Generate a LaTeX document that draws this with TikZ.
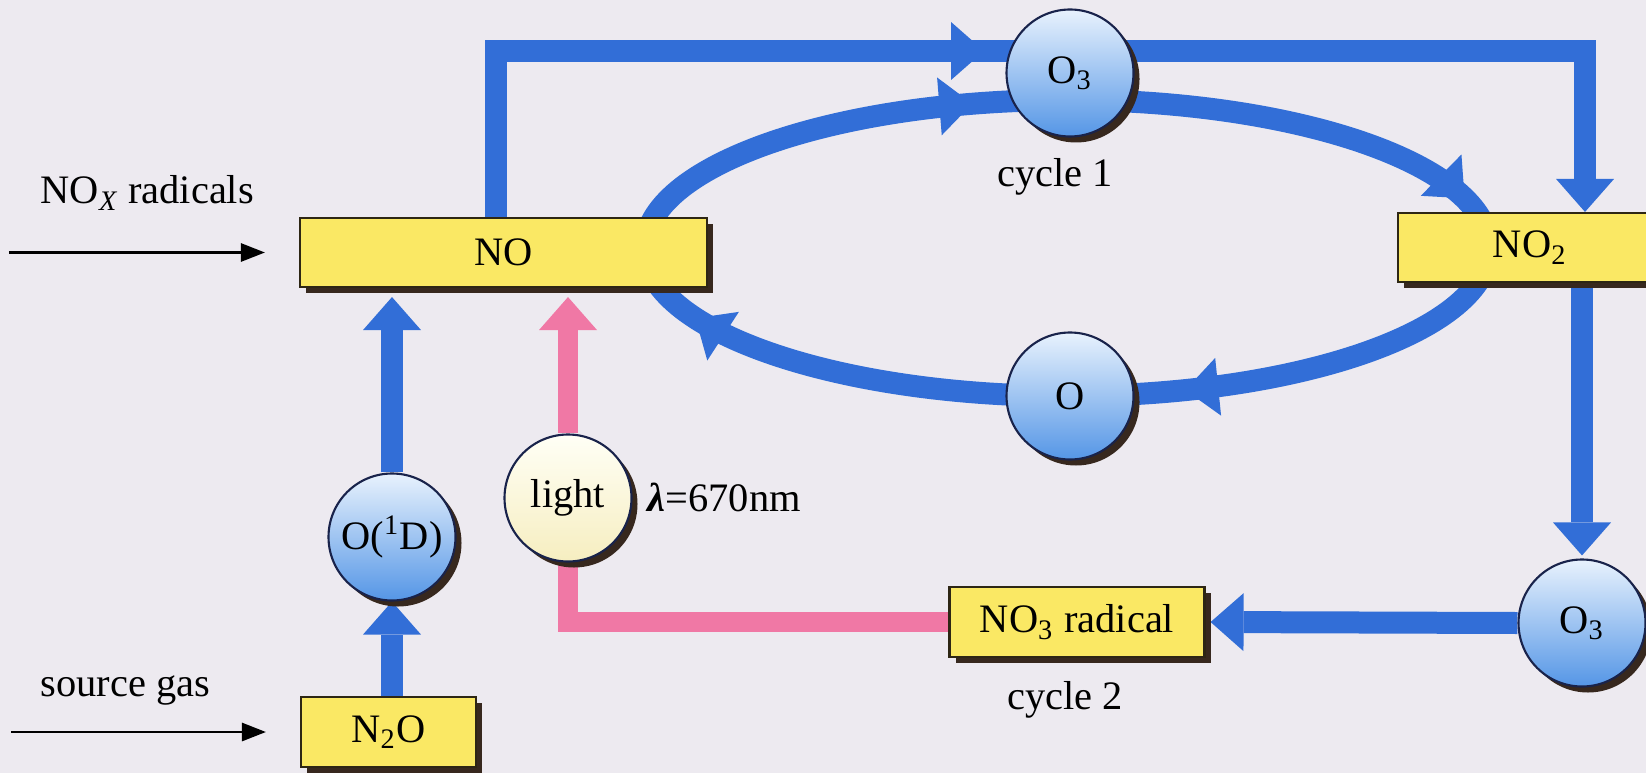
\documentclass[tikz,border=0pt]{standalone}
\usepackage{fontspec}
\setmainfont{Liberation Serif}
\usepackage{tikz}
\usetikzlibrary{positioning,calc,arrows.meta,shadows,backgrounds,decorations.markings}

\definecolor{paper}{RGB}{237,234,240}
\definecolor{flowblue}{RGB}{50,110,215}
\definecolor{pinkc}{RGB}{240,120,165}
\definecolor{boxyellow}{RGB}{250,232,100}
\definecolor{edge}{RGB}{45,38,20}
\definecolor{shadowc}{RGB}{55,40,30}
\definecolor{ballhi}{RGB}{232,242,253}
\definecolor{balllo}{RGB}{85,150,230}
\definecolor{ballrim}{RGB}{25,35,75}
\definecolor{lamphi}{RGB}{255,255,246}
\definecolor{lamplo}{RGB}{246,238,192}

\tikzset{
  txt/.style     = {font=\fontsize{11.5}{13}\selectfont},
  lbl/.style     = {txt, inner sep=0pt},
  box/.style     = {txt, draw=edge, fill=boxyellow, line width=0.6pt, inner sep=0pt, minimum height=0.69cm,
                    drop shadow={shadow xshift=0.06cm, shadow yshift=-0.06cm, opacity=1, fill=shadowc}},
  ball/.style    = {txt, circle, draw=ballrim, line width=0.6pt, top color=ballhi, bottom color=balllo,
                    minimum size=1.27cm, inner sep=0pt,
                    drop shadow={shadow xshift=0.06cm, shadow yshift=-0.06cm, opacity=1, fill=shadowc}},
  lamp/.style    = {ball, top color=lamphi, bottom color=lamplo},
  flow/.style    = {draw=flowblue, line width=0.22cm},
  glow/.style    = {draw=pinkc, line width=0.2cm},
  bigtip/.style  = {-{Triangle[length=3.3mm, width=5.8mm, line width=0pt]}},
  feed/.style    = {draw=black, line width=0.8pt, -{Triangle[length=2.4mm, width=1.8mm]}},
  midtip/.style  = {postaction={decorate, decoration={markings,
                    mark=at position #1 with {\arrow{Triangle[length=3.3mm, width=5.8mm, line width=0pt, color=flowblue]}}}}},
}

\begin{document}
\begin{tikzpicture}[x=1cm,y=1cm]
  \useasboundingbox (0,0) rectangle (16.46,7.73);

  % ----- boxes -----
  \node[box, minimum width=4.07cm] (NO) at (5.035,5.205) {NO};
  \node[box, minimum width=1.75cm, minimum height=0.70cm] (N2O) at (3.885,0.41) {N\textsubscript{2}O};
  \node[box, minimum width=2.64cm] (NO2) at (15.30,5.255) {NO\textsubscript{2}};
  \node[box, minimum width=2.55cm, minimum height=0.70cm] (NO3) at (10.77,1.51) {NO\textsubscript{3} radical};

  % ----- species -----
  \node[ball] (O1D) at (3.92,2.36) {O(\textsuperscript{1}D)};
  \node[lamp] (light) at (5.68,2.75) {light};
  \node[ball] (O3a) at (10.70,7.00) {O\textsubscript{3}};
  \node[ball] (O) at (10.70,3.77) {O};
  \node[ball] (O3b) at (15.82,1.50) {O\textsubscript{3}};

  % ----- labels -----
  \node[lbl, anchor=west] (noxlbl) at (0.40,5.80) {NO\textsubscript{\itshape X} radicals};
  \node[lbl, anchor=west] (srclbl) at (0.40,0.83) {source gas};
  \node[lbl, anchor=west] (lam) at (6.47,2.76) {{\bfseries\itshape λ}=670nm};
  \node[lbl] (cyc1) at (10.55,5.96) {cycle 1};
  \node[lbl] (cyc2) at (10.65,0.73) {cycle 2};

  \coordinate (nox-in) at (0.09,5.205);
  \coordinate (src-in) at (0.11,0.41);
  \coordinate (topL) at (4.96,7.22);
  \coordinate (topR) at (15.85,7.22);
  \coordinate (cyc) at (10.67,5.25);
  \coordinate (eL) at ($(cyc)+(-4.22,0)$);
  \coordinate (eT) at ($(cyc)+(0,1.48)$);
  \coordinate (eR) at ($(cyc)+(4.22,0)$);
  \coordinate (eB) at ($(cyc)+(0,-1.48)$);

  \begin{scope}[on background layer]
    \fill[paper] (0,0) rectangle (16.46,7.73);

    % ----- inputs -----
    \draw[feed, shorten >=0.34cm] (nox-in) -- (NO.west);
    \draw[feed, shorten >=0.34cm] (src-in) -- (N2O.west);

    % ----- source gas route -----
    \draw[flow, bigtip] (N2O.north -| O1D) -- (O1D.south);
    \draw[flow, bigtip, shorten >=0.09cm] (O1D.north) -- (O1D.north |- NO.south);

    % ----- photolysis -----
    \draw[glow] (NO3.west) -| (light.south);
    \draw[glow, draw=pinkc, -{Triangle[length=3.3mm, width=5.8mm, line width=0pt]}, shorten >=0.09cm]
      (light.north) -- (light.north |- NO.south);

    % ----- cycle 2 -----
    \draw[flow, bigtip, midtip=6.54cm] (NO.north -| topL) -- (topL) -- (topR) -- (topR |- NO2.north);
    \draw[flow, bigtip, shorten >=0.03cm] (NO2.south -| O3b) -- (O3b.north);
    \draw[flow, bigtip, shorten >=0.05cm] (O3b.west) -- (NO3.east);

    % ----- cycle 1 -----
    \draw[flow, midtip=0.80] (eL) arc[start angle=180, end angle=90, x radius=4.22cm, y radius=1.48cm];
    \draw[flow, midtip=0.88] (eT) arc[start angle=90, end angle=0, x radius=4.22cm, y radius=1.48cm];
    \draw[flow, midtip=0.75] (eR) arc[start angle=0, end angle=-90, x radius=4.22cm, y radius=1.48cm];
    \draw[flow, midtip=0.81] (eB) arc[start angle=-90, end angle=-180, x radius=4.22cm, y radius=1.48cm];
  \end{scope}
\end{tikzpicture}
\end{document}
